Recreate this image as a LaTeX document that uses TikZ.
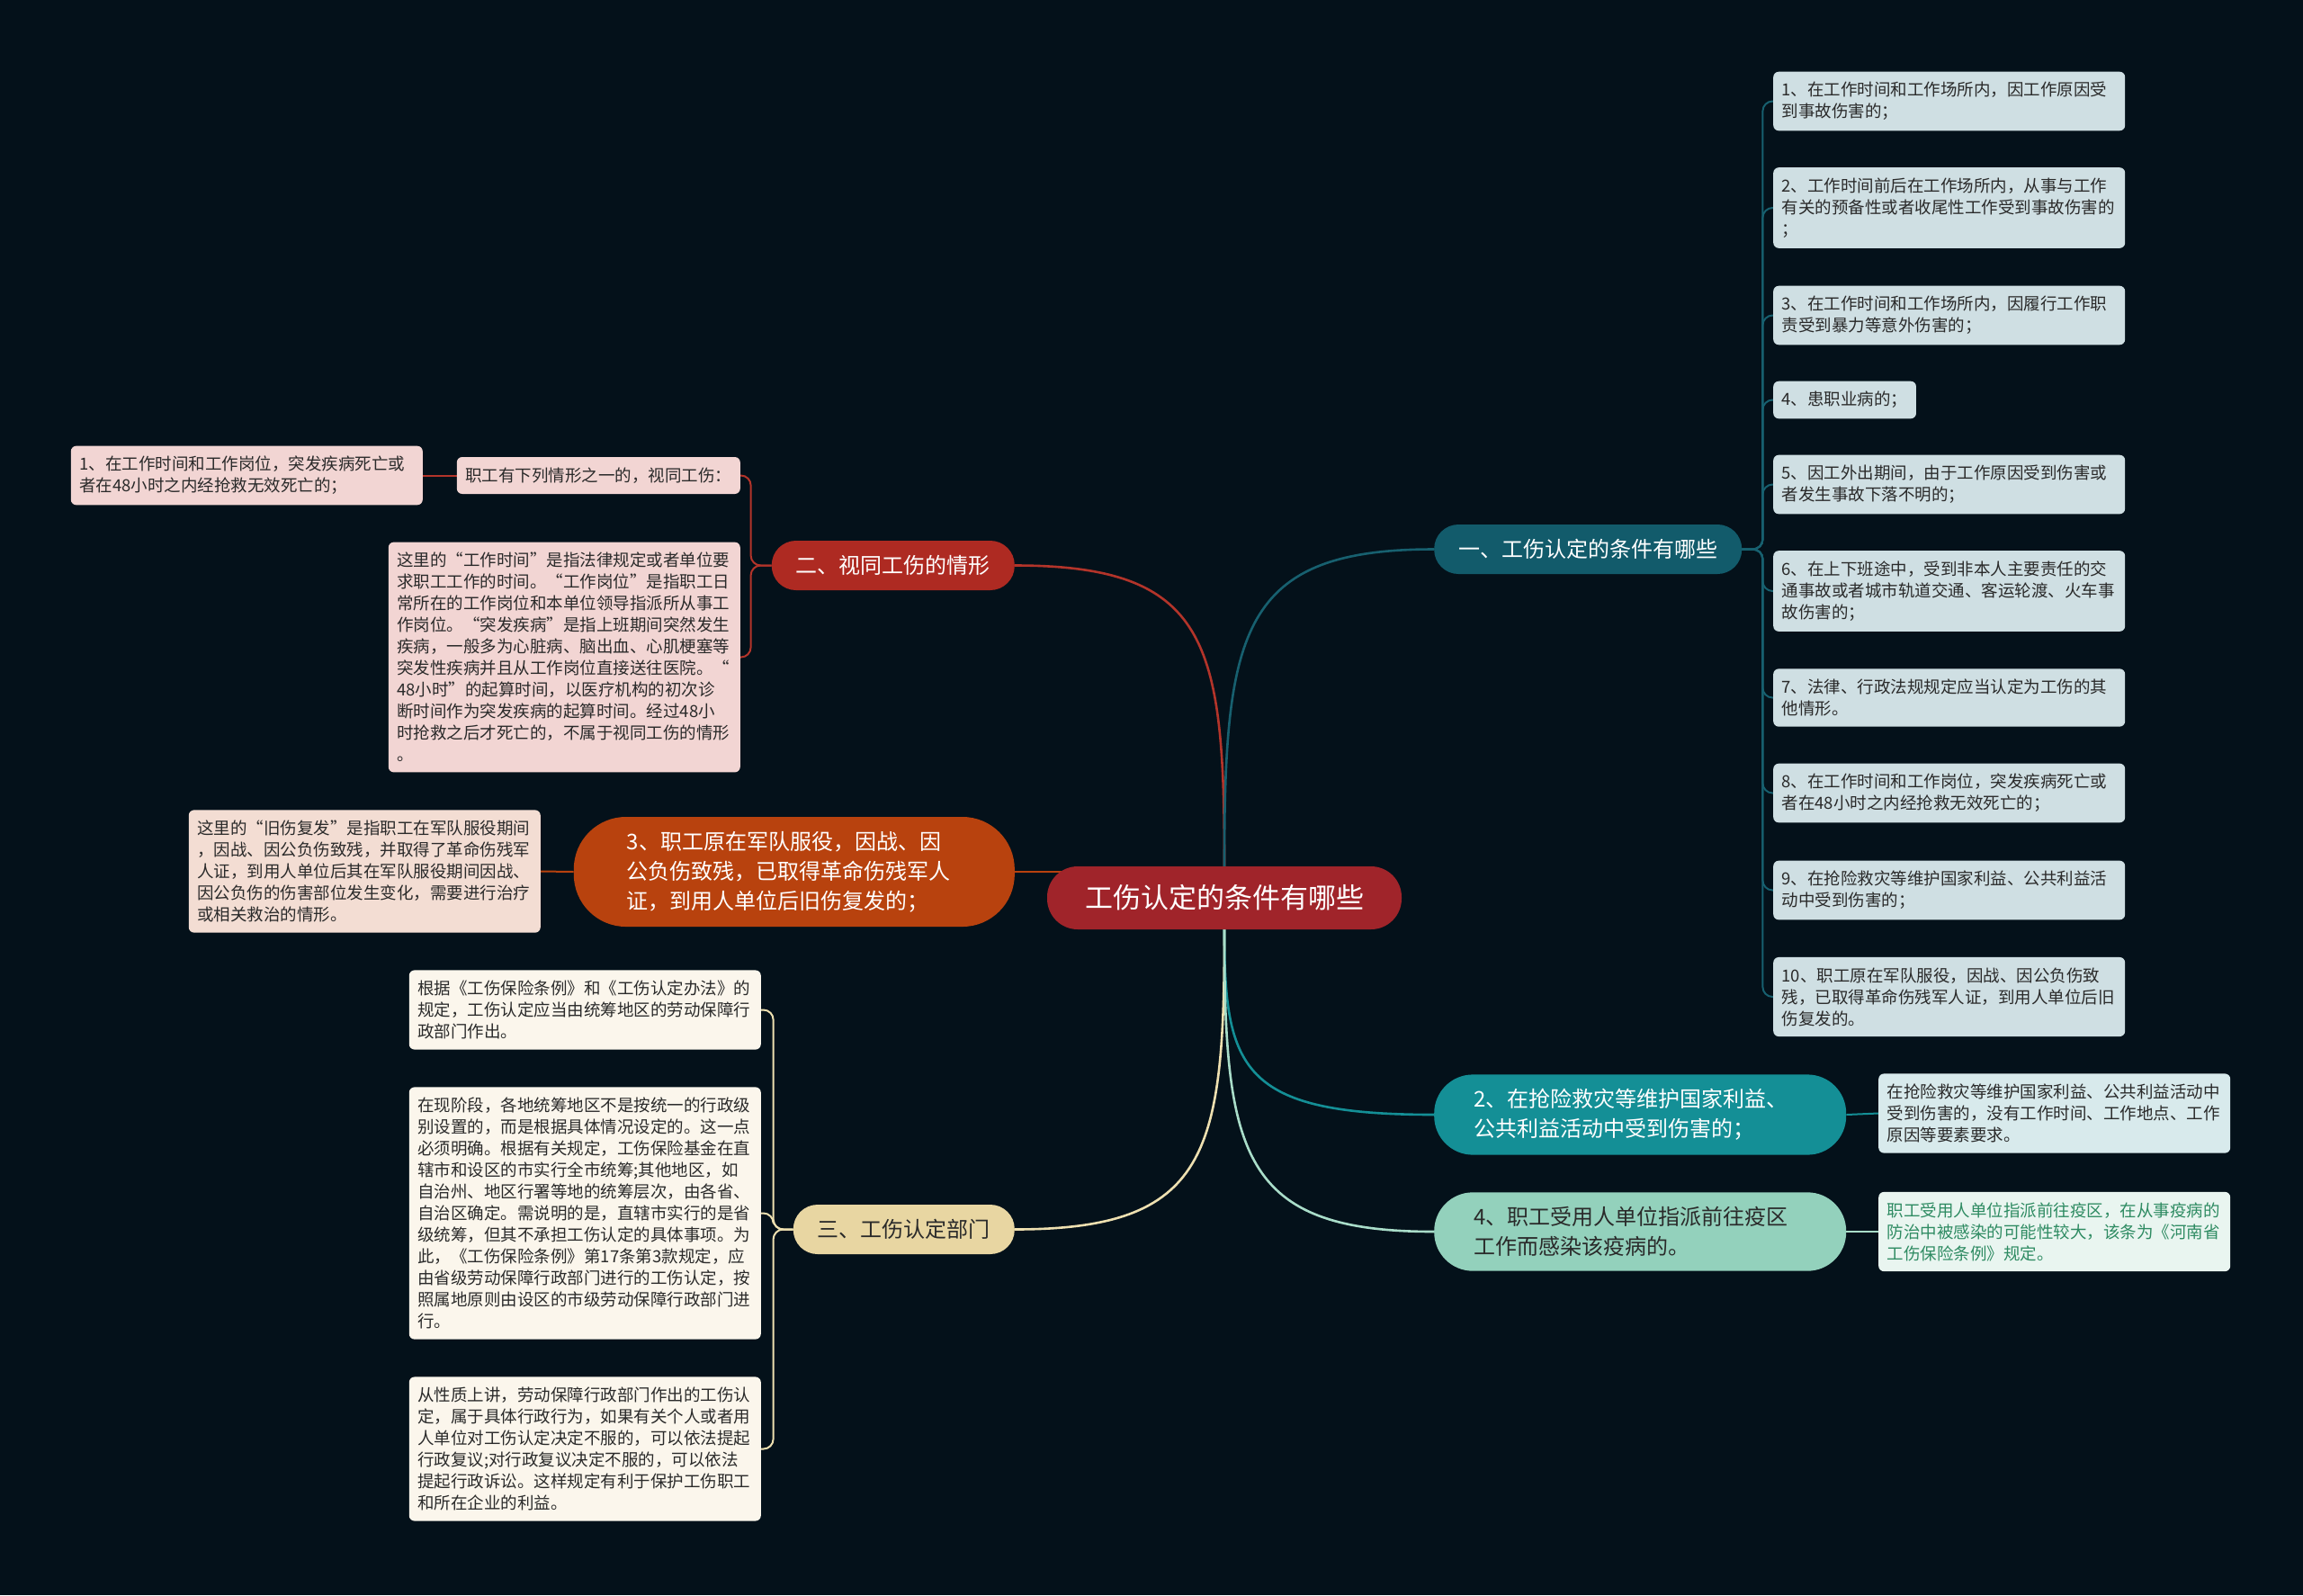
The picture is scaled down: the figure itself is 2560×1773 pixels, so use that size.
\documentclass[tikz,border=0pt]{standalone}
\usepackage{fontspec}
\setmainfont{Noto Sans CJK SC}
\usetikzlibrary{backgrounds}

\definecolor{bgnavy}{HTML}{04111A}
\definecolor{rootred}{HTML}{A0242A}
\definecolor{tealdark}{HTML}{125B6B}
\definecolor{tealline}{HTML}{17606F}
\definecolor{leafblue}{HTML}{CFDFE3}
\definecolor{brred}{HTML}{AE2A22}
\definecolor{redline}{HTML}{B3342A}
\definecolor{leafpink}{HTML}{F2D5D3}
\definecolor{brorange}{HTML}{B8420E}
\definecolor{leafpeach}{HTML}{F3DDD3}
\definecolor{brbeige}{HTML}{E8D6A2}
\definecolor{beigeline}{HTML}{EEE0B0}
\definecolor{leafcream}{HTML}{FBF6EC}
\definecolor{brteal}{HTML}{148F96}
\definecolor{leafice}{HTML}{D8EAEC}
\definecolor{brmint}{HTML}{93D1BC}
\definecolor{mintline}{HTML}{A9DDC9}
\definecolor{leafmint}{HTML}{E9F5F0}
\definecolor{mintgreen}{HTML}{2E8B62}
\definecolor{inkgray}{HTML}{2A2A2A}

\tikzset{
  rootbox/.style={fill=rootred, text=white, rounded corners=34pt, inner xsep=42pt,
    minimum height=70pt, font=\fontsize{31}{36}\selectfont},
  pill/.style={rounded corners=27pt, inner xsep=27pt, minimum height=55pt,
    font=\fontsize{24}{33}\selectfont},
  pilltwo/.style={rounded corners=43pt, inner xsep=44pt, inner ysep=16pt, align=left,
    text width=370pt, font=\fontsize{24}{33}\selectfont},
  leaf/.style={rounded corners=6pt, inner xsep=9.5pt, inner ysep=11.5pt, align=left,
    minimum height=41pt, text=inkgray, font=\fontsize{18.5}{24}\selectfont},
  wide/.style={text width=372pt},
  mainline/.style={line width=2.6pt},
  subline/.style={line width=2pt, rounded corners=11pt}
}

\begin{document}
\begin{tikzpicture}[x=1pt,y=-1pt]
  \useasboundingbox (0,0) rectangle (2560,1773);

  % root
  \node[rootbox] (root) at (1361,998) {工伤认定的条件有哪些};

  % branches
  \node[pill, fill=tealdark, text=white, anchor=west] (cond) at (1594,610.5) {一、工伤认定的条件有哪些};
  \node[pill, fill=brred, text=white, anchor=east] (same) at (1128,628.5) {二、视同工伤的情形};
  \node[pilltwo, rounded corners=58pt, inner xsep=59pt, text width=372pt, fill=brorange, text=white, anchor=east] (army) at (1128,969)
    {3、职工原在军队服役，因战、因\\公负伤致残，已取得革命伤残军人\\证，到用人单位后旧伤复发的；};
  \node[pill, fill=brbeige, text=inkgray, anchor=east] (dept) at (1128,1366.5) {三、工伤认定部门};
  \node[pilltwo, fill=brteal, text=white, anchor=west] (rescue) at (1594,1239)
    {2、在抢险救灾等维护国家利益、\\公共利益活动中受到伤害的；};
  \node[pilltwo, fill=brmint, text=inkgray, anchor=west] (epid) at (1594,1369)
    {4、职工受用人单位指派前往疫区\\工作而感染该疫病的。};

  % conditions 1-10
  \node[leaf, wide, fill=leafblue, anchor=west] (c1) at (1971,112.5)
    {1、在工作时间和工作场所内，因工作原因受\\到事故伤害的；};
  \node[leaf, wide, fill=leafblue, anchor=west] (c2) at (1971,231)
    {2、工作时间前后在工作场所内，从事与工作\\有关的预备性或者收尾性工作受到事故伤害的\\；};
  \node[leaf, wide, fill=leafblue, anchor=west] (c3) at (1971,350.5)
    {3、在工作时间和工作场所内，因履行工作职\\责受到暴力等意外伤害的；};
  \node[leaf, fill=leafblue, anchor=west] (c4) at (1971,444.5) {4、患职业病的；};
  \node[leaf, wide, fill=leafblue, anchor=west] (c5) at (1971,538.5)
    {5、因工外出期间，由于工作原因受到伤害或\\者发生事故下落不明的；};
  \node[leaf, wide, fill=leafblue, anchor=west] (c6) at (1971,657)
    {6、在上下班途中，受到非本人主要责任的交\\通事故或者城市轨道交通、客运轮渡、火车事\\故伤害的；};
  \node[leaf, wide, fill=leafblue, anchor=west] (c7) at (1971,775.5)
    {7、法律、行政法规规定应当认定为工伤的其\\他情形。};
  \node[leaf, wide, fill=leafblue, anchor=west] (c8) at (1971,881.5)
    {8、在工作时间和工作岗位，突发疾病死亡或\\者在48小时之内经抢救无效死亡的；};
  \node[leaf, wide, fill=leafblue, anchor=west] (c9) at (1971,989.5)
    {9、在抢险救灾等维护国家利益、公共利益活\\动中受到伤害的；};
  \node[leaf, wide, fill=leafblue, anchor=west] (c10) at (1971,1108)
    {10、职工原在军队服役，因战、因公负伤致\\残，已取得革命伤残军人证，到用人单位后旧\\伤复发的。};

  % same as injury
  \node[leaf, fill=leafpink, anchor=east] (same1) at (823,528.5) {职工有下列情形之一的，视同工伤：};
  \node[leaf, wide, fill=leafpink, anchor=east] (same11) at (470,528.5)
    {1、在工作时间和工作岗位，突发疾病死亡或\\者在48小时之内经抢救无效死亡的；};
  \node[leaf, wide, fill=leafpink, anchor=east] (same2) at (823,730.5)
    {这里的“工作时间”是指法律规定或者单位要\\求职工工作的时间。“工作岗位”是指职工日\\常所在的工作岗位和本单位领导指派所从事工\\作岗位。“突发疾病”是指上班期间突然发生\\疾病，一般多为心脏病、脑出血、心肌梗塞等\\突发性疾病并且从工作岗位直接送往医院。“\\48小时”的起算时间，以医疗机构的初次诊\\断时间作为突发疾病的起算时间。经过48小\\时抢救之后才死亡的，不属于视同工伤的情形\\。};

  % old injury
  \node[leaf, wide, fill=leafpeach, anchor=east] (army1) at (601,968.5)
    {这里的“旧伤复发”是指职工在军队服役期间\\，因战、因公负伤致残，并取得了革命伤残军\\人证，到用人单位后其在军队服役期间因战、\\因公负伤的伤害部位发生变化，需要进行治疗\\或相关救治的情形。};

  % department
  \node[leaf, wide, fill=leafcream, anchor=east] (dept1) at (846,1122.5)
    {根据《工伤保险条例》和《工伤认定办法》的\\规定，工伤认定应当由统筹地区的劳动保障行\\政部门作出。};
  \node[leaf, wide, fill=leafcream, anchor=east] (dept2) at (846,1348.5)
    {在现阶段，各地统筹地区不是按统一的行政级\\别设置的，而是根据具体情况设定的。这一点\\必须明确。根据有关规定，工伤保险基金在直\\辖市和设区的市实行全市统筹;其他地区，如\\自治州、地区行署等地的统筹层次，由各省、\\自治区确定。需说明的是，直辖市实行的是省\\级统筹，但其不承担工伤认定的具体事项。为\\此，《工伤保险条例》第17条第3款规定，应\\由省级劳动保障行政部门进行的工伤认定，按\\照属地原则由设区的市级劳动保障行政部门进\\行。};
  \node[leaf, wide, fill=leafcream, anchor=east] (dept3) at (846,1610.5)
    {从性质上讲，劳动保障行政部门作出的工伤认\\定，属于具体行政行为，如果有关个人或者用\\人单位对工伤认定决定不服的，可以依法提起\\行政复议;对行政复议决定不服的，可以依法\\提起行政诉讼。这样规定有利于保护工伤职工\\和所在企业的利益。};

  % rescue and epidemic notes
  \node[leaf, wide, fill=leafice, anchor=west] (rescue1) at (2088,1237.5)
    {在抢险救灾等维护国家利益、公共利益活动中\\受到伤害的，没有工作时间、工作地点、工作\\原因等要素要求。};
  \node[leaf, wide, fill=leafmint, text=mintgreen, anchor=west] (epid1) at (2088,1369)
    {职工受用人单位指派前往疫区，在从事疫病的\\防治中被感染的可能性较大，该条为《河南省\\工伤保险条例》规定。};

  \begin{pgfonlayer}{background}
    \fill[bgnavy] (0,0) rectangle (2560,1773);
    % connectors from root
    \draw[mainline, redline] (root.north) .. controls +(0,-250) and +(215,0) .. (same.east);
    \draw[mainline, tealline] (root.north) .. controls +(0,-262) and +(-215,0) .. (cond.west);
    \draw[mainline, brorange] (army.east) -- (root.center |- army.east);
    \draw[mainline, beigeline] (root.south) .. controls +(0,250) and +(215,0) .. (dept.east);
    \draw[mainline, brteal] (root.south) .. controls +(0,155) and +(-215,0) .. (rescue.west);
    \draw[mainline, mintline] (root.south) .. controls +(0,250) and +(-215,0) .. (epid.west);
    % connectors to leaves
    \foreach \c in {c1,c2,c3,c4,c5,c6,c7,c8,c9,c10}
      \draw[subline, tealline] (cond.east) -- ++(23,0) |- (\c.west);
    \foreach \c in {same1,same2}
      \draw[subline, redline] (same.west) -- ++(-23,0) |- (\c.east);
    \draw[subline, redline] (same1.west) -- (same11.east);
    \draw[subline, brorange] (army.west) -- (army1.east);
    \foreach \c in {dept1,dept2,dept3}
      \draw[subline, beigeline] (dept.west) -- ++(-22,0) |- (\c.east);
    \draw[subline, brteal] (rescue.east) -- (rescue1.west);
    \draw[subline, mintline] (epid.east) -- (epid1.west);
  \end{pgfonlayer}
\end{tikzpicture}
\end{document}
